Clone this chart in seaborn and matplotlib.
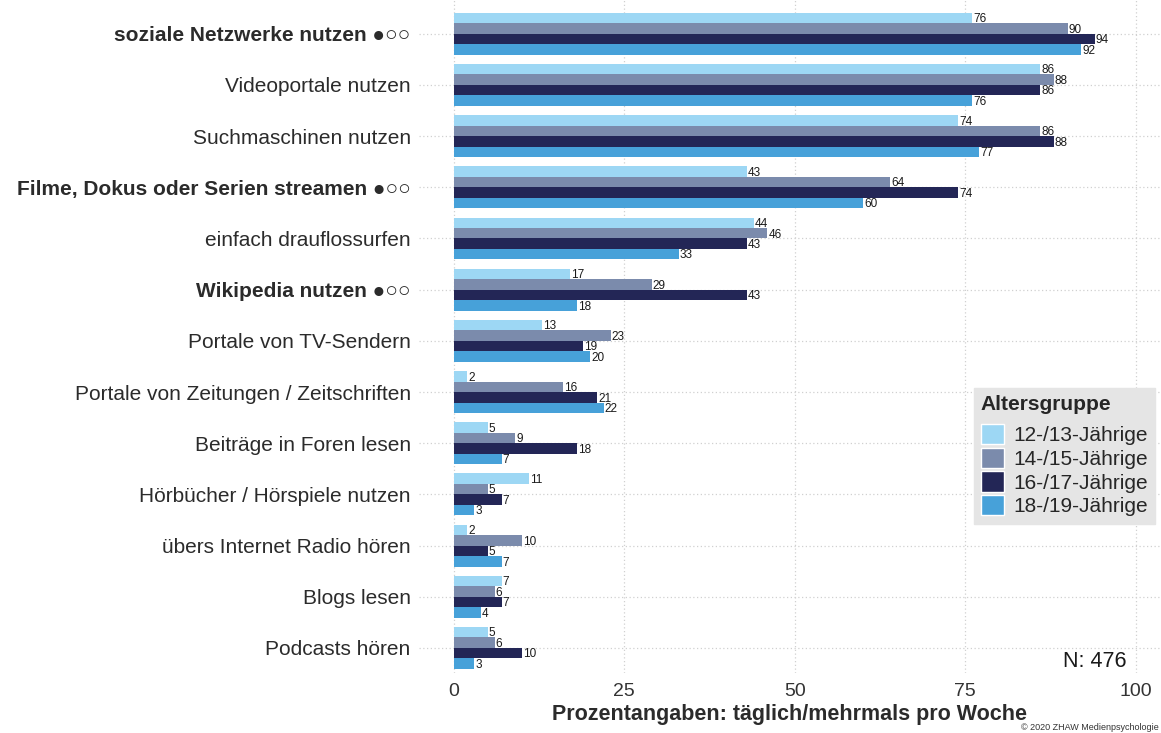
import matplotlib
matplotlib.use("Agg")
import matplotlib.pyplot as plt
import seaborn as sns
import pandas as pd
from matplotlib.patches import Patch

categories = [
    "soziale Netzwerke nutzen ●○○",
    "Videoportale nutzen",
    "Suchmaschinen nutzen",
    "Filme, Dokus oder Serien streamen ●○○",
    "einfach drauflossurfen",
    "Wikipedia nutzen ●○○",
    "Portale von TV-Sendern",
    "Portale von Zeitungen / Zeitschriften",
    "Beiträge in Foren lesen",
    "Hörbücher / Hörspiele nutzen",
    "übers Internet Radio hören",
    "Blogs lesen",
    "Podcasts hören",
]
bold_categories = [0, 3, 5]
groups = ["12-/13-Jährige", "14-/15-Jährige", "16-/17-Jährige", "18-/19-Jährige"]
v_12_13 = [76, 86, 74, 43, 44, 17, 13, 2, 5, 11, 2, 7, 5]
v_14_15 = [90, 88, 86, 64, 46, 29, 23, 16, 9, 5, 10, 6, 6]
v_16_17 = [94, 86, 88, 74, 43, 43, 19, 21, 18, 7, 5, 7, 10]
v_18_19 = [92, 76, 77, 60, 33, 18, 20, 22, 7, 3, 7, 4, 3]
x_ticks = [0, 25, 50, 75, 100]
colors = ["#9DD7F4", "#7B8BAC", "#232656", "#47A1D9"]

values = [v_12_13, v_14_15, v_16_17, v_18_19]
rows = []
for g, vals in zip(groups, values):
    for c, v in zip(categories, vals):
        rows.append({"Kategorie": c, "Altersgruppe": g, "Wert": v})
df = pd.DataFrame(rows)

sns.set_theme(style="white")
plt.rcParams["font.family"] = ["Liberation Sans", "DejaVu Sans"]

fig = plt.figure(figsize=(11.61, 7.33), dpi=100)
ax = fig.add_axes([419 / 1161, 60 / 733, 1 - 419 / 1161, 1 - 60 / 733])

sns.barplot(data=df, y="Kategorie", x="Wert", hue="Altersgruppe",
            order=categories, hue_order=groups, palette=colors,
            orient="h", width=0.82, gap=0, dodge=True, ax=ax,
            legend=False, saturation=1, linewidth=0, errorbar=None)

# value labels
for cont, vals in zip(ax.containers, values):
    for p, v in zip(cont.patches, vals):
        ax.text(p.get_width() + 0.15, p.get_y() + p.get_height() * 0.62, f"{v}",
                ha="left", va="center", fontsize=8.5, color="#1a1a1a")

ax.set_xlim(-5.1, 103.7)
ax.set_ylim(len(categories) - 1 + 0.49, -0.66)
ax.set_xticks(x_ticks)
ax.set_xticklabels([str(t) for t in x_ticks], fontsize=14, color="#333333")
ax.tick_params(axis="x", length=0, pad=7)
ax.tick_params(axis="y", length=0, pad=6)
ax.set_yticks(range(len(categories)))
ax.set_yticklabels(categories, fontsize=15, color="#2b2b2b")
for i, lbl in enumerate(ax.get_yticklabels()):
    if i in bold_categories:
        lbl.set_fontweight("bold")

ax.set_xlabel("Prozentangaben: täglich/mehrmals pro Woche", fontsize=15.5,
              fontweight="bold", color="#2b2b2b", labelpad=3)
ax.set_ylabel("")

for s in ax.spines.values():
    s.set_visible(False)
ax.set_axisbelow(True)
ax.grid(True, axis="both", linestyle=(0, (1, 2)), color="#D0D0D0", linewidth=0.9)

ax.text(94, 12.26, "N: 476", fontsize=15.5, color="#1a1a1a", ha="center", va="center")

handles = [Patch(facecolor=c, edgecolor="white", linewidth=1) for c in colors]
leg = fig.legend(handles, groups, title="Altersgruppe", loc="upper right",
                 bbox_to_anchor=(1155 / 1161, 1 - 388 / 733), bbox_transform=fig.transFigure,
                 fontsize=15, title_fontsize=15, frameon=True, fancybox=False,
                 handlelength=1.1, handleheight=1.12, handletextpad=0.45,
                 labelspacing=0.12, borderpad=0.35, borderaxespad=0)
leg.get_title().set_fontweight("bold")
leg._legend_box.align = "left"
leg._legend_box.sep = 7
frame = leg.get_frame()
frame.set_facecolor("#E5E5E5")
frame.set_edgecolor("#E5E5E5")
frame.set_alpha(1)

fig.text(1159 / 1161, 1 / 733, "© 2020 ZHAW Medienpsychologie", fontsize=6.5, ha="right",
         va="bottom", color="#333333")

fig.savefig("out.png", dpi=100)
